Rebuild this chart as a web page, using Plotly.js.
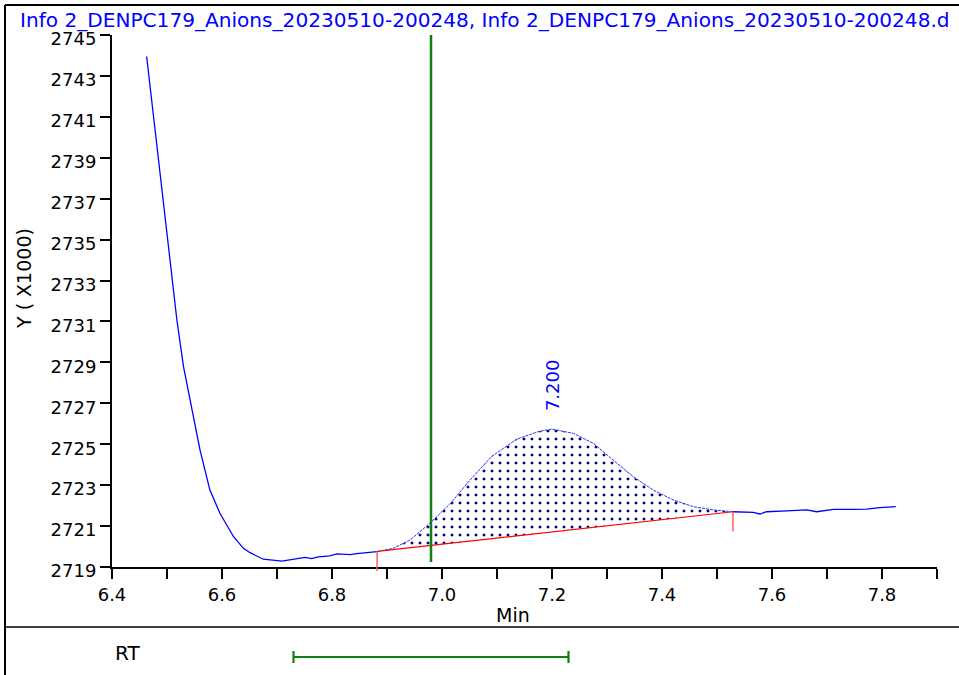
<!DOCTYPE html>
<html><head><meta charset="utf-8">
<script src="https://cdn.plot.ly/plotly-3.0.1.min.js"></script>
<style>html,body{margin:0;padding:0;background:#fff}#chart{width:959px;height:675px}</style>
</head><body><div id="chart"></div>
<script>
const titleText = "Info 2_DENPC179_Anions_20230510-200248, Info 2_DENPC179_Anions_20230510-200248.d";
const xTitle = "Min";
const yTitle = "Y ( X1000)";
const curveX = [6.463, 6.476, 6.487, 6.501, 6.518, 6.530, 6.545, 6.560, 6.578, 6.596, 6.621, 6.639, 6.651, 6.675, 6.709, 6.736, 6.751, 6.763, 6.775, 6.796, 6.809, 6.833, 6.845, 6.882, 6.911, 6.942, 6.978, 7.015, 7.051, 7.090, 7.136, 7.178, 7.200, 7.239, 7.275, 7.311, 7.348, 7.384, 7.421, 7.457, 7.493, 7.529, 7.566, 7.578, 7.590, 7.627, 7.663, 7.681, 7.712, 7.748, 7.772, 7.796, 7.825];
const curveY = [2743.95, 2740.90, 2738.26, 2734.98, 2731.07, 2728.79, 2726.67, 2724.72, 2722.76, 2721.64, 2720.48, 2719.91, 2719.70, 2719.38, 2719.29, 2719.39, 2719.47, 2719.41, 2719.50, 2719.54, 2719.64, 2719.60, 2719.65, 2719.75, 2719.91, 2720.32, 2721.14, 2722.10, 2723.25, 2724.40, 2725.25, 2725.64, 2725.74, 2725.53, 2725.05, 2724.23, 2723.41, 2722.76, 2722.27, 2721.95, 2721.79, 2721.70, 2721.67, 2721.59, 2721.70, 2721.74, 2721.79, 2721.70, 2721.82, 2721.82, 2721.83, 2721.90, 2721.95];
const baselineX = [6.882, 7.529];
const baselineY = [2719.76, 2721.70];
const peakRT = 7.200;
const peakLabel = "7.200";
const rtCategory = ["RT"];
const rtCenter = [6.98];
const rtWindow = 0.25;
const xRange = [6.4, 7.9];
const yRange = [2719, 2745];
const xTickVals = [6.4, 6.6, 6.8, 7.0, 7.2, 7.4, 7.6, 7.8];
const xTickText = ["6.4", "6.6", "6.8", "7.0", "7.2", "7.4", "7.6", "7.8"];

const FONT = "DejaVu Sans";
const i0 = curveX.indexOf(baselineX[0]);
const i1 = curveX.indexOf(baselineX[1]);
const peakIdx = curveX.indexOf(peakRT);

const fillX = curveX.slice(i0, i1 + 1).concat([baselineX[1], baselineX[0]]);
const fillY = curveY.slice(i0, i1 + 1).concat([baselineY[1], baselineY[0]]);

const traces = [
  {x: fillX, y: fillY, type: 'scatter', mode: 'lines', fill: 'toself',
   line: {width: 0, color: 'rgba(0,0,0,0)'}, fillcolor: 'rgba(0,0,0,0)',
   fillpattern: {shape: '.', size: 8, solidity: 0.11, fgcolor: '#000080', bgcolor: 'white', fillmode: 'replace'},
   hoverinfo: 'skip', showlegend: false},
  {x: curveX.slice(0, i0 + 1), y: curveY.slice(0, i0 + 1), type: 'scatter', mode: 'lines',
   line: {color: '#0000ff', width: 1.3}, hoverinfo: 'skip', showlegend: false},
  {x: curveX.slice(i1), y: curveY.slice(i1), type: 'scatter', mode: 'lines',
   line: {color: '#0000ff', width: 1.3}, hoverinfo: 'skip', showlegend: false},
  {x: curveX.slice(i0, i1 + 1), y: curveY.slice(i0, i1 + 1), type: 'scatter', mode: 'lines',
   line: {color: 'rgba(20,20,255,0.9)', width: 1, dash: '3px,1px'}, hoverinfo: 'skip', showlegend: false},
  {x: baselineX, y: baselineY, type: 'scatter', mode: 'lines',
   line: {color: '#ff0000', width: 1.2}, hoverinfo: 'skip', showlegend: false},
  {x: rtCenter, y: rtCategory, xaxis: 'x', yaxis: 'y2', type: 'scatter', mode: 'markers',
   marker: {size: 1, opacity: 0},
   error_x: {type: 'constant', value: rtWindow, color: '#108010', thickness: 2.2, width: 6},
   hoverinfo: 'skip', showlegend: false}
];

const px = (p) => (p - 112) / 825;   // frame decoration position in paper units
const py = (p) => (675 - p) / 640;

const layout = {
  width: 959, height: 675,
  margin: {l: 112, r: 22, t: 35, b: 0},
  paper_bgcolor: 'white', plot_bgcolor: 'white',
  showlegend: false,
  title: {text: titleText, font: {family: FONT, size: 20.1, color: '#0000ff'},
          x: 20 / 959, xanchor: 'left', xref: 'container', y: (675 - 20) / 675, yanchor: 'middle', yref: 'container'},
  xaxis: {range: xRange, anchor: 'y', showline: true, linewidth: 2, linecolor: 'black',
          ticks: 'outside', ticklen: 10, tickwidth: 2, tickcolor: 'black',
          tickmode: 'array', tickvals: xTickVals, ticktext: xTickText,
          minor: {tick0: 6.4, dtick: 0.1, ticks: 'outside', ticklen: 10, tickwidth: 2, tickcolor: 'black', showgrid: false},
          showgrid: false, zeroline: false, tickfont: {family: FONT, size: 18, color: 'black'}},
  yaxis: {domain: [0.16875, 1], range: yRange, anchor: 'x', showline: true, linewidth: 2, linecolor: 'black',
          ticks: 'outside', ticklen: 10, tickwidth: 2, tickcolor: 'black', tick0: 2719, dtick: 2,
          ticklabelshift: 4,
          showgrid: false, zeroline: false, tickfont: {family: FONT, size: 18, color: 'black'}},
  yaxis2: {domain: [0, 0.16875], anchor: 'x', type: 'category', range: [-0.2, 1.0],
           showline: false, showgrid: false, zeroline: false, ticks: '', showticklabels: false},
  annotations: [
    {text: xTitle, xref: 'paper', yref: 'paper', x: px(512.5), y: py(615), xanchor: 'center', yanchor: 'middle',
     showarrow: false, font: {family: FONT, size: 19, color: 'black'}},
    {text: yTitle, xref: 'paper', yref: 'paper', x: px(24), y: py(279), xanchor: 'center', yanchor: 'middle',
     showarrow: false, textangle: -90, font: {family: FONT, size: 19, color: 'black'}},
    {text: rtCategory[0], xref: 'paper', yref: 'paper', x: px(127), y: py(653), xanchor: 'center', yanchor: 'middle',
     showarrow: false, font: {family: FONT, size: 20, color: 'black'}},
    {text: peakLabel, xref: 'x', yref: 'y', x: peakRT, y: curveY[peakIdx], showarrow: false, textangle: -90,
     xanchor: 'center', yanchor: 'bottom', yshift: 16, font: {family: FONT, size: 18, color: '#0000ff'}},
    {text: '', xref: 'x', yref: 'y', x: baselineX[0], y: baselineY[0], showarrow: true, ax: 0, ay: 21,
     arrowhead: 0, arrowwidth: 1.5, arrowcolor: '#ff6060', standoff: 0, font: {size: 1}},
    {text: '', xref: 'x', yref: 'y', x: baselineX[1], y: baselineY[1], showarrow: true, ax: 0, ay: 21,
     arrowhead: 0, arrowwidth: 1.5, arrowcolor: '#ff6060', standoff: 0, font: {size: 1}}
  ],
  shapes: [
    {type: 'line', xref: 'x', yref: 'y domain', x0: rtCenter[0], x1: rtCenter[0], y0: 0.0094, y1: 1,
     line: {color: '#108010', width: 2.5}, layer: 'above'},
    {type: 'line', xref: 'paper', yref: 'paper', x0: px(5), x1: px(5), y0: py(675), y1: py(5),
     line: {color: 'black', width: 2}},
    {type: 'line', xref: 'paper', yref: 'paper', x0: px(5), x1: px(959), y0: py(5), y1: py(5),
     line: {color: 'black', width: 2}},
    {type: 'line', xref: 'paper', yref: 'paper', x0: px(5), x1: px(959), y0: py(627), y1: py(627),
     line: {color: 'black', width: 1.5}}
  ]
};

Plotly.newPlot('chart', traces, layout, {displayModeBar: false, staticPlot: true});
</script>
</body></html>
